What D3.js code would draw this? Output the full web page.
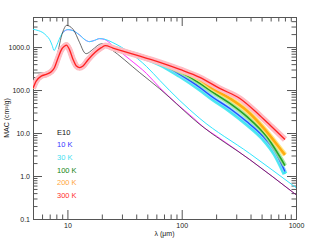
<!DOCTYPE html>
<html>
<head>
<meta charset="utf-8">
<script src="https://cdn.jsdelivr.net/npm/d3@7"></script>
<style>
  body { margin: 0; background: #fff; }
  text { font-family: "Liberation Sans", Arial, sans-serif; }
</style>
</head>
<body>
<svg id="chart" width="323" height="241"></svg>
<script>
    // wavelength (um) , MAC (cm2/g)
    var e10 = [[5,250],[7.2,250],[7.7,331],[8.3,807],[8.8,1655],[9.45,2830],[9.8,3200],[11.2,2590],
        [12.8,1260],[14.1,741],[14.6,701],[16.7,883],[19.1,1156],[20.4,1200],[23.5,933],[43,253],
        [64.4,106],[144,15.8],[394,2.41],[1000,0.368]];

    var thinCyan = [[5,2590],[5.6,2400],[6.1,2170],[6.6,1800],[6.97,1514],[7.35,1100],[7.65,830],[7.95,1000],
        [8.25,1267],[8.7,1750],[9.1,2170],[10.1,2540],[11,2450],[12.8,1900],[14.4,1450],[15.6,1336],
        [17.3,1432],[19.1,1570],[21.2,1520],[25,1267],[35.1,740],[49.1,355],[64.4,167],[96.2,57],
        [144,21.8],[394,3.33],[1000,0.537]];

    var thinMagenta = [[9.1,2170],[10.1,2540],[11,2450],[12.8,1900],[14.4,1450],[15.6,1336],[17.3,1432],
        [19.1,1570],[21.2,1500],[25,1067],[35.1,516],[49.1,244],[64.4,113],[90,48.7],[126,22.6],
        [159,13],[200,8.6],[394,2.41],[1000,0.368]];

    // all temperatures sit on top of each other below ~40 um
    var bandShort = [[5,110],[5.33,161],[5.9,211],[6.53,231],[7.22,267],[7.7,331],[8.3,566],[8.8,837],
        [9.45,1054],[9.8,1114],[10.4,883],[11.2,516],[12,361],[12.8,331],[13.7,361],[15.1,500],
        [17.5,760],[19.8,968],[21.5,1080],[25,950],[30.6,807],[43,617]];

    var tail10K  = [[64.4,420],[96.2,231],[144,115],[188,67.3],[264,37.2],[370,18.5],[517,8.28],[657,3.7],[801,1.27]];
    var tail30K  = [[64.4,405],[96.2,218],[144,106],[188,62],[264,33.5],[370,16.6],[517,7.4],[657,3.2],[801,1.12]];
    var tail100K = [[64.4,430],[96.2,268],[144,143],[188,88],[264,48.8],[370,24.3],[554,8.28],[801,1.75]];
    var tail200K = [[64.4,435],[96.2,286],[144,177],[188,107],[264,63.7],[370,33.4],[517,13.4],[773,3.5],[801,3.1]];
    var tail300K = [[64.4,440],[96.2,302],[144,197],[215,109],[323,63.7],[482,25.6],[613,14],[801,7.06]];

    var legendLabels = ["E10", "10 K", "30 K", "100 K", "200 K", "300 K"];
    var legendColors = ["#111", "#3535ff", "#3fe0f0", "#158515", "#ffa640", "#ff3030"];

    var xMajor = [10, 100, 1000];
    var yMajor = [0.1, 1, 10, 100, 1000];

    var svg = d3.select("#chart"),
        marginLeft = 33, marginTop = 17, width = 263, height = 202;

    var x = d3.scaleLog().domain([5, 1000]).range([0, width]);
    var y = d3.scaleLog().domain([0.1, 5000]).range([height, 0]);

    var g = svg.append("g").attr("transform", "translate(" + marginLeft + "," + marginTop + ")");

    g.append("clipPath").attr("id", "clip")
        .append("rect").attr("width", width).attr("height", height);

    // minor ticks: 2..9 of every decade inside the domain
    function minors(scale) {
        var d = scale.domain(), out = [];
        for (var e = -2; e <= 4; e++) {
            for (var k = 2; k <= 9; k++) {
                var v = k * Math.pow(10, e);
                if (v > d[0] && v < d[1]) out.push(v);
            }
        }
        return out;
    }

    function drawAxis(maker, scale, pos, ticks, size, labels, fmt) {
        var ax = maker(scale).tickValues(ticks).tickSizeInner(-size).tickSizeOuter(0)
            .tickPadding(labels ? 3 : 0)
            .tickFormat(labels ? fmt : "");
        var a = g.append("g").attr("transform", pos).call(ax);
        a.select(".domain").remove();
        a.selectAll("line").attr("stroke", "#555");
        a.selectAll("text").attr("fill", "#222").style("font-size", "7px");
        return a;
    }

    drawAxis(d3.axisBottom, x, "translate(0," + height + ")", minors(x), 4.5, false);
    drawAxis(d3.axisBottom, x, "translate(0," + height + ")", xMajor, 9, true, d3.format("d"))
        .selectAll("text").attr("dy", "0.9em");
    drawAxis(d3.axisTop, x, "translate(0,0)", minors(x), 4.5, false);
    drawAxis(d3.axisTop, x, "translate(0,0)", xMajor, 9, false);
    drawAxis(d3.axisLeft, y, "translate(0,0)", minors(y), 4.5, false);
    drawAxis(d3.axisLeft, y, "translate(0,0)", yMajor, 9, true, d3.format(".1f"));
    drawAxis(d3.axisRight, y, "translate(" + width + ",0)", minors(y), 4.5, false);
    drawAxis(d3.axisRight, y, "translate(" + width + ",0)", yMajor, 9, false);

    g.append("rect")
        .attr("x", 0.5).attr("y", 0.5).attr("width", width).attr("height", height)
        .attr("fill", "none").attr("stroke", "#555").attr("stroke-width", 1);

    var line = d3.line()
        .x(function (d) {return x(d[0]);})
        .y(function (d) {return y(d[1]);})
        .curve(d3.curveMonotoneX);

    var plot = g.append("g").attr("clip-path", "url(#clip)");

    // thin model curves
    plot.append("path").datum(thinMagenta).attr("d", line)
        .attr("fill", "none").attr("stroke", "#ff30ff").attr("stroke-width", 1);
    plot.append("path").datum(thinCyan).attr("d", line)
        .attr("fill", "none").attr("stroke", "#30e6ff").attr("stroke-width", 1);
    plot.append("path").datum(e10).attr("d", line)
        .attr("fill", "none").attr("stroke", "#222").attr("stroke-width", 0.9)
        .attr("stroke-opacity", 0.75);

    // temperature bands: halo first, then the centre line
    var temps = [
        {data: bandShort.concat(tail10K),  halo: "#8fd8ff", line: "#2248ff", hw: 3.5, lw: 1.3, op: 0.85},
        {data: bandShort.concat(tail30K),  halo: "#33e4f0", line: "#33e4f0", hw: 5, lw: 2, op: 0.85},
        {data: bandShort.concat(tail100K), halo: "#9be39b", line: "#23a323", hw: 4.5, lw: 1.6, op: 0.85},
        {data: bandShort.concat(tail200K), halo: "#ffe070", line: "#ffab10", hw: 5, lw: 2.5, op: 0.85},
        {data: bandShort.concat(tail300K), halo: "#ffbcc4", line: "#ff2020", hw: 6, lw: 1.3, op: 1}
    ];

    // 30 K halo goes underneath the 10 K line
    var order = [1, 0, 2, 3, 4];
    order.forEach(function (i) {
        var t = temps[i];
        plot.append("path").datum(t.data).attr("d", line)
            .attr("fill", "none").attr("stroke", t.halo).attr("stroke-width", t.hw)
            .attr("stroke-linejoin", "round").attr("stroke-opacity", t.op);
        plot.append("path").datum(t.data).attr("d", line)
            .attr("fill", "none").attr("stroke", t.line).attr("stroke-width", t.lw)
            .attr("stroke-linejoin", "round");
    });

    // legend
    g.selectAll(".leg")
        .data(legendLabels)
        .enter()
        .append("text")
        .attr("class", "leg")
        .attr("x", 24)
        .attr("y", function (d, i) {return 117.5 + i * 12.7;})
        .attr("fill", function (d, i) {return legendColors[i];})
        .style("font-size", "7.5px")
        .text(function (d) {return d;});

    // axis titles
    svg.append("text")
        .attr("x", marginLeft + width / 2).attr("y", 236)
        .attr("text-anchor", "middle")
        .attr("fill", "#222")
        .style("font-size", "7px")
        .text("λ (μm)");

    svg.append("text")
        .attr("transform", "translate(9," + (marginTop + height / 2) + ") rotate(-90)")
        .attr("text-anchor", "middle")
        .attr("fill", "#222")
        .style("font-size", "7px")
        .text("MAC (cm²/g)");
</script>
</body>
</html>
